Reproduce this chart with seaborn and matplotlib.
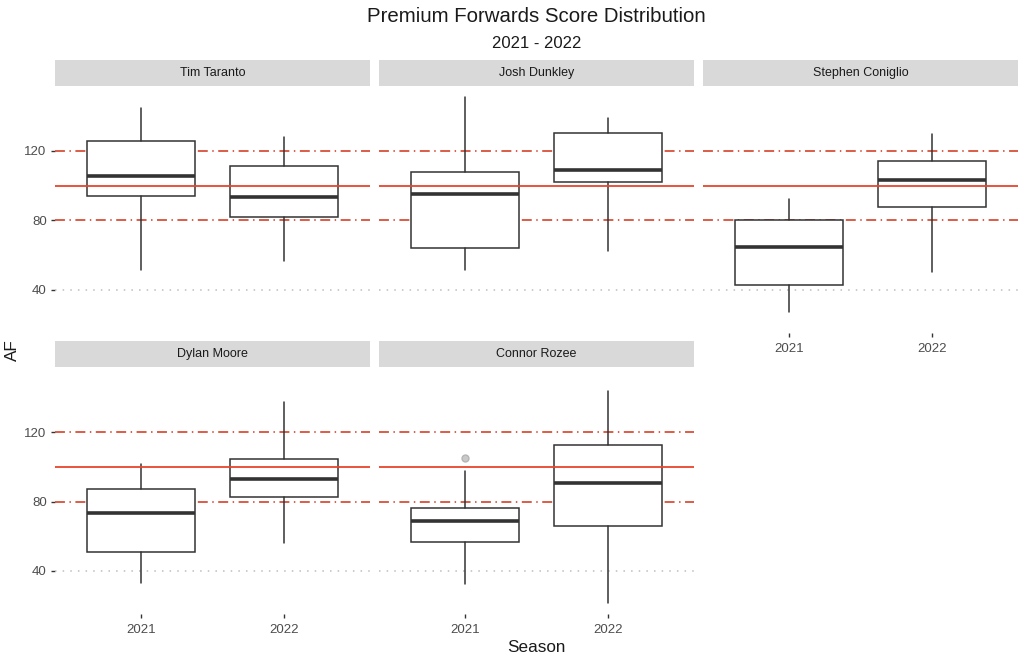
import numpy as np
import pandas as pd
import matplotlib.pyplot as plt
import seaborn as sns
from matplotlib.patches import Rectangle

#%% Data: box summaries (one entry per player/season)
player = ['Tim Taranto', 'Tim Taranto', 'Josh Dunkley', 'Josh Dunkley',
          'Stephen Coniglio', 'Stephen Coniglio', 'Dylan Moore', 'Dylan Moore',
          'Connor Rozee', 'Connor Rozee']
season = ['2021', '2022'] * 5
whisker_low = [51.5, 56.3, 51.5, 62.4, 26.9, 49.9, 33.3, 56.1, 32.4, 21.4]
q1 = [94.1, 81.8, 63.8, 101.8, 42.6, 87.4, 50.9, 82.4, 57.0, 65.7]
median = [105.6, 93.4, 95.3, 109.1, 64.5, 103.3, 73.4, 93.1, 69.0, 90.5]
q3 = [125.8, 111.2, 107.7, 130.5, 79.9, 114.2, 87.3, 104.6, 76.1, 112.9]
whisker_high = [144.9, 127.9, 150.9, 138.8, 92.2, 129.8, 101.7, 137.6, 97.5, 143.7]
outliers = [[], [], [], [], [], [], [], [], [105.0], []]

player_order = ['Tim Taranto', 'Josh Dunkley', 'Stephen Coniglio', 'Dylan Moore', 'Connor Rozee']
season_order = ['2021', '2022']
y_breaks = [40, 80, 120]

df = pd.DataFrame({'player': player, 'season': season, 'low': whisker_low,
                   'q1': q1, 'med': median, 'q3': q3, 'high': whisker_high,
                   'fliers': outliers})

#%% Style
sns.set_theme(style='white')
plt.rcParams['font.family'] = ['Liberation Sans', 'DejaVu Sans']

W, H = 1024, 664
edge = '#333333'
red = '#E8452C'
red2 = '#D9503A'


def draw_boxes(data, **kws):
    ax = plt.gca()
    stats = []
    for s in season_order:
        r = data[data['season'] == s].iloc[0]
        stats.append(dict(med=r['med'], q1=r['q1'], q3=r['q3'],
                          whislo=r['low'], whishi=r['high'],
                          fliers=np.array(r['fliers'])))
    # linhas de referencia
    ax.axhline(40, color='#BDBDBD', lw=1.1, ls=(0, (1, 4)), zorder=1)
    ax.axhline(80, color=red2, lw=1.3, ls=(0, (5.5, 2.5, 0.8, 2.5)), zorder=1)
    ax.axhline(120, color=red2, lw=1.3, ls=(0, (5.5, 2.5, 0.8, 2.5)), zorder=1)
    ax.bxp(stats, positions=range(len(season_order)), widths=0.75,
           patch_artist=True, showfliers=True,
           boxprops=dict(facecolor='white', edgecolor=edge, linewidth=1.1),
           whiskerprops=dict(color=edge, linewidth=1.1),
           capprops=dict(linewidth=0),
           medianprops=dict(color=edge, linewidth=2.6),
           flierprops=dict(marker='o', markersize=5, markerfacecolor='#C4C4C4',
                           markeredgecolor='#B0B0B0', alpha=0.9),
           zorder=2)
    ax.axhline(100, color=red, lw=1.3, zorder=3)


g = sns.FacetGrid(df, col='player', col_order=player_order, col_wrap=3,
                  sharey=True, sharex=False, height=3, aspect=1.2)
g.map_dataframe(draw_boxes)
g.set_titles('')
g.set_axis_labels('', '')

fig = g.figure
fig.set_size_inches(W / 100, H / 100)
fig.subplots_adjust(left=55 / W, right=1018 / W, top=1 - 86 / H,
                    bottom=1 - 614.5 / H, wspace=9 / 315, hspace=34.4 / 247.3)

strip_h = 26 / 247.3
for i, (ax, name) in enumerate(zip(g.axes.flat, player_order)):
    ax.set_xlim(-0.6, 1.6)
    ax.set_ylim(14.9, 157.4)
    ax.set_yticks(y_breaks)
    ax.set_xticks(range(len(season_order)))
    ax.set_xticklabels(season_order)
    sns.despine(ax=ax, left=True, bottom=True)
    ax.grid(False)
    ax.tick_params(axis='both', length=3, width=1, color=edge,
                   labelcolor='#4D4D4D', labelsize=9.5, pad=3)
    col = i % 3
    show_x = i >= 2
    ax.tick_params(axis='x', bottom=show_x, labelbottom=show_x, pad=4)
    ax.tick_params(axis='y', left=(col == 0), labelleft=(col == 0))
    # faixa do painel
    ax.add_patch(Rectangle((0, 1), 1, strip_h, transform=ax.transAxes,
                           facecolor='#D9D9D9', edgecolor='none', clip_on=False))
    ax.text(0.5, 1 + strip_h / 2, name, transform=ax.transAxes, ha='center',
            va='center', fontsize=9, color='#1A1A1A')

fig.text(536.5 / W, 1 - 17 / H, 'Premium Forwards Score Distribution',
         ha='center', va='center', fontsize=14.7, color='#1A1A1A')
fig.text(536.5 / W, 1 - 43 / H, '2021 - 2022', ha='center', va='center',
         fontsize=12, color='#1A1A1A')
fig.text(536.5 / W, 1 - 647 / H, 'Season', ha='center', va='center',
         fontsize=12.3, color='#1A1A1A')
fig.text(12 / W, 1 - 350 / H, 'AF', ha='center', va='center', rotation=90,
         fontsize=12.3, color='#1A1A1A')

fig.savefig('out.png', dpi=100, facecolor='white')
